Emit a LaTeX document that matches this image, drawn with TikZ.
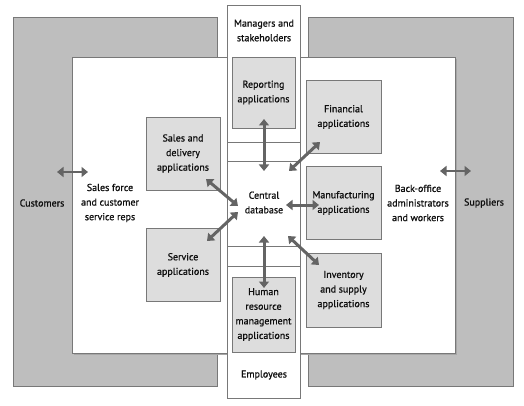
\documentclass[tikz,border=0pt]{standalone}
\usepackage{fontspec}
\setmainfont{PT Sans}[BoldFont={PT Sans},BoldFeatures={FakeBold=0.9}]
\usetikzlibrary{arrows.meta}
\definecolor{outergray}{RGB}{190,190,190}
\definecolor{boxgray}{RGB}{221,221,221}
\definecolor{edgegray}{RGB}{120,120,120}
\definecolor{arrowgray}{RGB}{100,100,100}
\definecolor{txt}{RGB}{15,15,15}
\begin{document}
\begin{tikzpicture}[x=1pt,y=-1pt,
  lbl/.style={align=center,font=\fontsize{10}{14.6}\selectfont\bfseries,text=txt,inner sep=0pt},
  region/.style={draw=edgegray,fill=outergray,line width=0.8pt,inner sep=0pt},
  whitebox/.style={draw=edgegray,fill=white,line width=0.7pt,inner sep=0pt},
  appbox/.style={draw=edgegray,fill=boxgray,line width=0.8pt,inner sep=0pt,
    minimum width=74pt,minimum height=73pt,align=center,
    font=\fontsize{10}{14.6}\selectfont\bfseries,text=txt},
  dblarrow/.style={draw=arrowgray,line width=3pt,
    {Triangle[width=10pt,length=6.5pt]}-{Triangle[width=10pt,length=6.5pt]}}
]
\useasboundingbox (0,0) rectangle (524,406);
% outer gray regions
\node[region,minimum width=204pt,minimum height=369pt] (custreg) at (115,201.5) {};
\node[region,minimum width=205pt,minimum height=369pt] (suppreg) at (410.5,201.5) {};
% inner white area with slight shadow
\fill[gray!70] (74,59) rectangle (457,355);
\node[whitebox,minimum width=383pt,minimum height=296pt] (inner) at (263.5,205) {};
% central column
\node[whitebox,minimum width=73pt,minimum height=137pt] (mgr) at (263.5,73.5) {};
\node[whitebox,minimum width=73pt,minimum height=19pt] (strip1) at (263.5,151.5) {};
\node[whitebox,minimum width=73pt,minimum height=85pt] (central) at (263.5,203.5) {};
\node[whitebox,minimum width=73pt,minimum height=20pt] (strip2) at (263.5,256) {};
\node[whitebox,minimum width=73pt,minimum height=132pt] (emp) at (263.5,332) {};
% labels
\node[lbl] (customers) at (42,203) {Customers};
\node[lbl] (suppliers) at (484,203) {Suppliers};
\node[lbl] (salesforce) at (110,203) {Sales force\\and customer\\service reps};
\node[lbl] (backoffice) at (418,203) {Back-office\\administrators\\and workers};
\node[lbl] (centraltxt) at (264,202.5) {Central\\database};
\node[lbl] (mgrtxt) at (264,30.5) {Managers and\\stakeholders};
\node[lbl] (emptxt) at (264,375) {Employees};
% application boxes
\node[appbox,minimum width=63pt,minimum height=71pt] (reporting) at (263.5,92.5) {Reporting\\applications};
\node[appbox] (sales) at (183,153.5) {Sales and\\delivery\\applications};
\node[appbox] (service) at (183,265) {Service\\applications};
\node[appbox,minimum width=75pt] (financial) at (343.5,117) {Financial\\applications};
\node[appbox,minimum width=75pt] (manuf) at (343.5,203) {Manufacturing\\applications};
\node[appbox,minimum width=75pt,minimum height=74pt] (inventory) at (343.5,290) {Inventory\\and supply\\applications};
\node[appbox,minimum width=63pt,minimum height=75pt] (hr) at (263.5,314.5) {Human\\resource\\management\\applications};
% arrow end points
\coordinate (ca1) at (57,172); \coordinate (ca2) at (88,172);
\coordinate (sa1) at (440,171); \coordinate (sa2) at (471,171);
\coordinate (rp1) at (264,119); \coordinate (rp2) at (264,171);
\coordinate (hr1) at (264,236); \coordinate (hr2) at (264,288);
\coordinate (sl1) at (206,179); \coordinate (sl2) at (238,206);
\coordinate (sv1) at (238,212); \coordinate (sv2) at (207,241);
\coordinate (fn1) at (289,171); \coordinate (fn2) at (320,142);
\coordinate (mf1) at (286,205); \coordinate (mf2) at (319,205);
\coordinate (iv1) at (288,236); \coordinate (iv2) at (319,265);
\draw[dblarrow,line width=2.6pt] (ca1) -- (ca2);
\draw[dblarrow,line width=2.6pt] (sa1) -- (sa2);
\draw[dblarrow] (rp1) -- (rp2);
\draw[dblarrow] (hr1) -- (hr2);
\draw[dblarrow] (sl1) -- (sl2);
\draw[dblarrow] (sv1) -- (sv2);
\draw[dblarrow] (fn1) -- (fn2);
\draw[dblarrow] (mf1) -- (mf2);
\draw[dblarrow] (iv1) -- (iv2);
\end{tikzpicture}
\end{document}
